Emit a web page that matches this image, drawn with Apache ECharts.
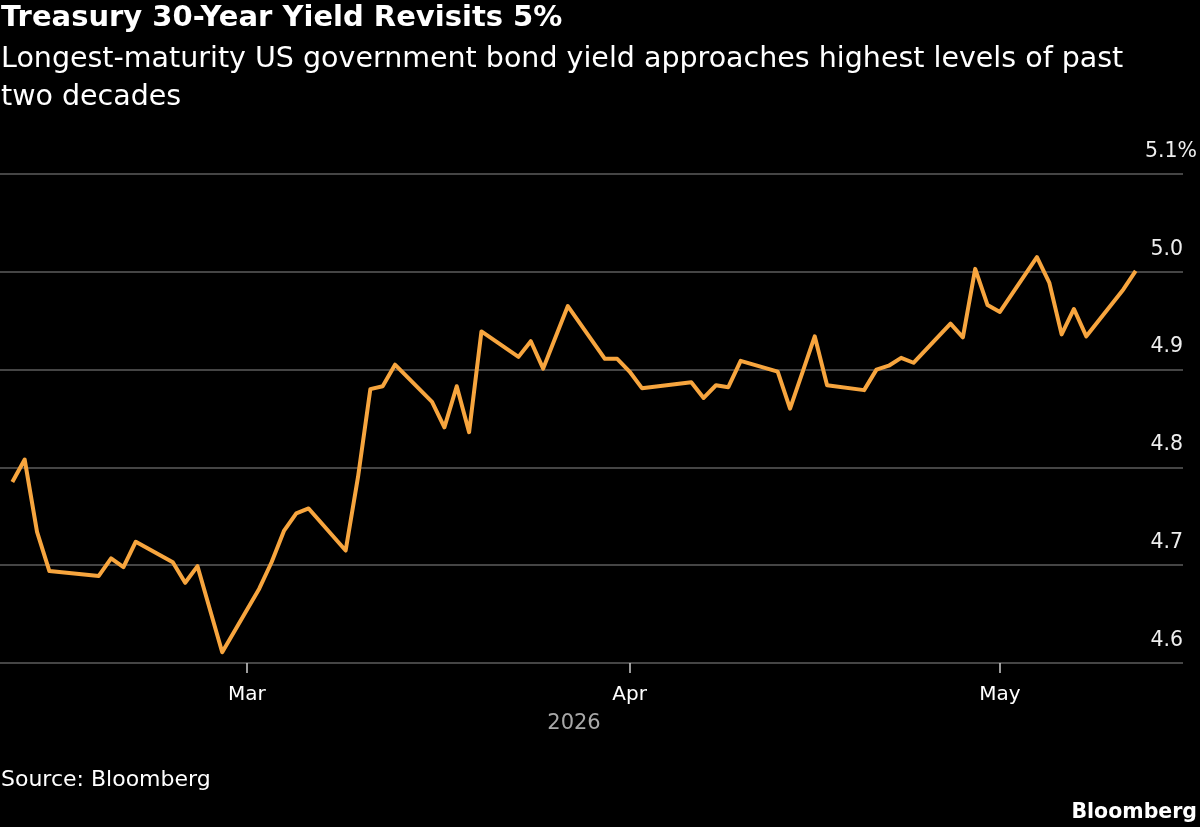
<!DOCTYPE html>
<html>
<head>
<meta charset="utf-8">
<title>Treasury 30-Year Yield Revisits 5%</title>
<script src="https://cdn.jsdelivr.net/npm/echarts@6/dist/echarts.min.js"></script>
<style>
	html, body {margin: 0; padding: 0; background: #000;}
	#chart {width: 1200px; height: 827px;}
</style>
</head>
<body>
<div id="chart"></div>
<script>
// trading days
var dates = [
	'2026-02-10', '2026-02-11', '2026-02-12', '2026-02-13', '2026-02-17', '2026-02-18', '2026-02-19', '2026-02-20',
	'2026-02-23', '2026-02-24', '2026-02-25', '2026-02-26', '2026-02-27',
	'2026-03-02', '2026-03-03', '2026-03-04', '2026-03-05', '2026-03-06',
	'2026-03-09', '2026-03-10', '2026-03-11', '2026-03-12', '2026-03-13',
	'2026-03-16', '2026-03-17', '2026-03-18', '2026-03-19', '2026-03-20',
	'2026-03-23', '2026-03-24', '2026-03-25', '2026-03-26', '2026-03-27',
	'2026-03-30', '2026-03-31', '2026-04-01', '2026-04-02',
	'2026-04-06', '2026-04-07', '2026-04-08', '2026-04-09', '2026-04-10',
	'2026-04-13', '2026-04-14', '2026-04-15', '2026-04-16', '2026-04-17',
	'2026-04-20', '2026-04-21', '2026-04-22', '2026-04-23', '2026-04-24',
	'2026-04-27', '2026-04-28', '2026-04-29', '2026-04-30', '2026-05-01',
	'2026-05-04', '2026-05-05', '2026-05-06', '2026-05-07', '2026-05-08',
	'2026-05-11', '2026-05-12'
];
var yields = [
	4.785, 4.808, 4.734, 4.694, 4.689, 4.707, 4.698, 4.724,
	4.703, 4.682, 4.699, 4.655, 4.611,
	4.676, 4.703, 4.735, 4.753, 4.758,
	4.715, 4.790, 4.880, 4.883, 4.905,
	4.867, 4.841, 4.883, 4.836, 4.939,
	4.913, 4.929, 4.901, 4.933, 4.965,
	4.911, 4.911, 4.898, 4.881,
	4.887, 4.871, 4.884, 4.882, 4.909,
	4.898, 4.860, 4.897, 4.934, 4.884,
	4.879, 4.900, 4.904, 4.912, 4.907,
	4.947, 4.933, 5.003, 4.966, 4.959,
	5.015, 4.989, 4.936, 4.962, 4.934,
	4.982, 5.001
];
var monthTicks = ['2026-03-01', '2026-04-01', '2026-05-01'];
var monthNames = ['Mar', 'Apr', 'May'];

function toTime(s) {
	var p = s.split('-');
	return Date.UTC(+p[0], +p[1] - 1, +p[2]);
}

var seriesData = [];
for (var i = 0; i < dates.length; i++) {
	seriesData.push([toTime(dates[i]), yields[i]]);
}
var tickValues = [];
for (var j = 0; j < monthTicks.length; j++) {
	tickValues.push(toTime(monthTicks[j]));
}

var FONT = 'DejaVu Sans';
var myChart = echarts.init(document.getElementById('chart'));
var option = {
	backgroundColor: '#000',
	animation: false,
	textStyle: {fontFamily: FONT},
	title: [
		{
			text: 'Treasury 30-Year Yield Revisits 5%',
			left: 1, top: 4, padding: 0,
			textStyle: {color: '#fff', fontSize: 29, fontWeight: 'bold', fontFamily: FONT}
		},
		{
			text: 'Longest-maturity US government bond yield approaches highest levels of past\ntwo decades',
			left: 1, top: 41, padding: 0,
			textStyle: {color: '#fff', fontSize: 28.5, fontWeight: 'normal', lineHeight: 37.5, fontFamily: FONT}
		},
		{
			text: '2026',
			left: 574, top: 713, padding: 0, textAlign: 'center',
			textStyle: {color: '#a8a8a8', fontSize: 21, fontWeight: 'normal', fontFamily: FONT}
		},
		{
			text: 'Source: Bloomberg',
			left: 1, top: 769, padding: 0,
			textStyle: {color: '#fff', fontSize: 22, fontWeight: 'normal', fontFamily: FONT}
		},
		{
			text: 'Bloomberg',
			right: 3, top: 802, padding: 0,
			textStyle: {color: '#fff', fontSize: 20.5, fontWeight: 'bold', fontFamily: FONT}
		}
	],
	grid: {left: 0, right: 17, top: 174, bottom: 164},
	xAxis: {
		type: 'value',
		min: toTime('2026-02-09'),
		max: toTime('2026-05-15') + 20 * 3600 * 1000,
		axisLine: {show: false},
		splitLine: {show: false},
		axisTick: {
			show: true,
			customValues: tickValues,
			length: 10,
			lineStyle: {color: '#d0d0d0', width: 1.5}
		},
		axisLabel: {
			customValues: tickValues,
			color: '#fff',
			fontSize: 20,
			margin: 22,
			formatter: function (value) {
				var idx = tickValues.indexOf(value);
				return idx >= 0 ? monthNames[idx] : '';
			}
		}
	},
	yAxis: {
		type: 'value',
		position: 'right',
		min: 4.6,
		max: 5.1,
		interval: 0.1,
		axisLine: {show: false},
		axisTick: {show: false},
		splitLine: {lineStyle: {color: '#5c5c5c', width: 1.5}},
		axisLabel: {
			inside: true,
			margin: -14,
			verticalAlign: 'bottom',
			padding: [0, 0, 12, 0],
			formatter: function (v) {
				if (Math.abs(v - 5.1) < 1e-6) return '{pct|5.1%}';
				return '{num|' + v.toFixed(1) + '}';
			},
			rich: {
				pct: {color: '#eee', fontSize: 20.5, fontFamily: FONT},
				num: {color: '#eee', fontSize: 20.5, fontFamily: FONT, padding: [0, 14, 0, 0]}
			}
		}
	},
	series: [
		{
			type: 'line',
			data: seriesData,
			showSymbol: false,
			lineStyle: {color: '#f7a53e', width: 4, join: 'round'}
		}
	]
};
myChart.setOption(option);
</script>
</body>
</html>
